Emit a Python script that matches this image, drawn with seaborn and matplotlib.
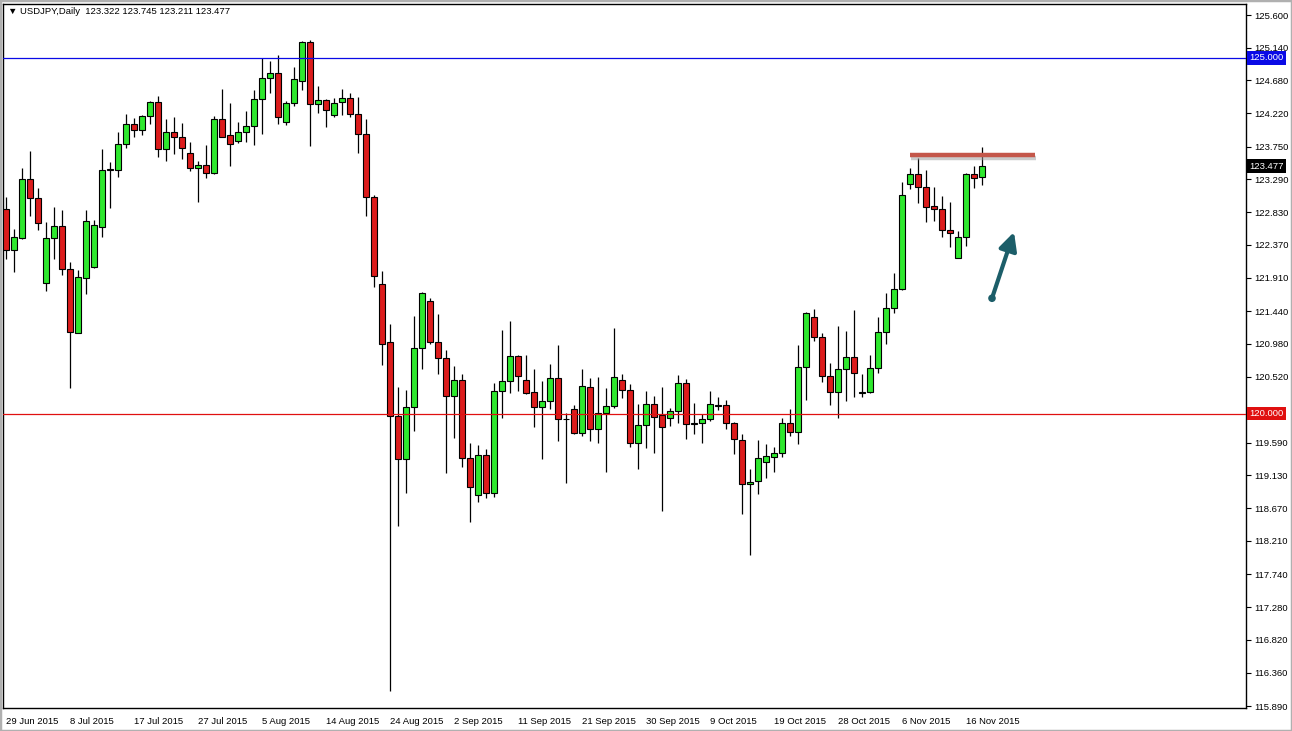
import matplotlib
matplotlib.use("Agg")
import matplotlib.pyplot as plt
import matplotlib.patheffects as pe
import matplotlib.transforms as mtransforms
import numpy as np
import pandas as pd
import seaborn as sns

# USDJPY daily candles, 29 Jun 2015 - 18 Nov 2015
opens = [122.87, 122.30, 122.47, 123.30, 123.03, 121.83, 122.47, 122.64, 122.03, 121.13,
         121.90, 122.06, 122.62, 123.42, 123.42, 123.79, 124.07, 123.98, 124.18, 124.38,
         123.72, 123.96, 123.89, 123.66, 123.45, 123.49, 123.38, 124.14, 123.91, 123.83,
         123.96, 124.04, 124.42, 124.72, 124.79, 124.10, 124.36, 124.67, 125.22, 124.35,
         124.40, 124.20, 124.38, 124.43, 124.21, 123.93, 123.04, 121.82, 121.00, 119.97,
         119.36, 120.09, 120.92, 121.58, 121.00, 120.78, 120.25, 120.47, 119.38, 118.86,
         119.42, 118.88, 120.32, 120.46, 120.81, 120.47, 120.30, 120.09, 120.18, 120.50,
         119.92, 120.06, 119.73, 120.37, 119.78, 120.01, 120.11, 120.47, 120.33, 119.59,
         119.84, 120.13, 119.98, 119.94, 120.04, 120.43, 119.85, 119.87, 119.92, 120.12,
         120.12, 119.87, 119.63, 119.01, 119.05, 119.32, 119.39, 119.45, 119.87, 119.74,
         120.65, 121.36, 121.08, 120.53, 120.30, 120.62, 120.79, 120.29, 120.30, 120.64,
         121.15, 121.48, 121.75, 123.23, 123.37, 123.18, 122.92, 122.87, 122.58, 122.19,
         122.48, 123.37, 123.322]
highs = [123.04, 122.59, 123.45, 123.69, 123.17, 122.69, 122.90, 122.86, 122.13, 122.02,
         122.86, 122.72, 123.72, 123.53, 123.96, 124.21, 124.15, 124.19, 124.39, 124.46,
         124.14, 124.17, 124.08, 123.82, 123.55, 123.77, 124.18, 124.56, 124.36, 124.10,
         124.25, 124.55, 125.00, 124.95, 125.04, 124.39, 124.87, 125.24, 125.25, 124.60,
         124.42, 124.43, 124.56, 124.50, 124.45, 124.14, 123.07, 122.00, 121.26, 120.37,
         120.33, 121.37, 121.71, 121.62, 121.40, 120.89, 120.67, 120.56, 119.59, 119.56,
         119.50, 120.43, 121.17, 121.30, 120.82, 120.82, 120.62, 120.46, 120.70, 120.96,
         120.01, 120.12, 120.62, 120.50, 120.51, 120.36, 121.20, 120.56, 120.41, 120.13,
         120.32, 120.25, 120.37, 120.08, 120.54, 120.49, 120.15, 119.99, 120.32, 120.23,
         120.19, 119.88, 119.71, 119.22, 119.63, 119.57, 119.53, 119.94, 120.06, 120.96,
         121.42, 121.47, 121.13, 120.71, 121.23, 121.16, 121.45, 120.55, 120.82, 121.36,
         121.69, 121.97, 123.25, 123.45, 123.59, 123.42, 123.18, 123.06, 122.97, 122.57,
         123.38, 123.48, 123.745]
lows = [122.17, 121.99, 122.45, 122.78, 122.58, 121.72, 122.17, 121.95, 120.36, 121.13,
        121.68, 122.04, 122.48, 122.89, 123.32, 123.73, 123.89, 123.91, 124.07, 123.60,
        123.55, 123.65, 123.58, 123.41, 122.97, 123.31, 123.37, 123.88, 123.48, 123.80,
        123.81, 123.77, 123.93, 124.50, 124.07, 124.05, 124.32, 124.55, 123.76, 124.22,
        124.03, 124.17, 124.20, 124.17, 123.66, 122.78, 121.78, 120.68, 116.10, 118.42,
        118.88, 119.75, 120.63, 120.98, 120.56, 119.16, 119.66, 119.25, 118.48, 118.76,
        118.81, 118.83, 119.94, 120.29, 120.32, 120.28, 119.81, 119.36, 120.07, 119.61,
        119.02, 119.71, 119.68, 119.61, 119.59, 119.18, 120.08, 120.22, 119.53, 119.22,
        119.51, 119.45, 118.63, 119.82, 119.87, 119.64, 119.71, 119.59, 119.90, 120.05,
        119.78, 119.43, 118.59, 118.01, 118.87, 119.09, 119.18, 119.39, 119.68, 119.57,
        120.19, 121.02, 120.44, 120.12, 119.94, 120.18, 120.23, 120.23, 120.29, 120.57,
        120.98, 121.41, 121.74, 123.16, 122.96, 122.69, 122.70, 122.48, 122.34, 122.18,
        122.35, 123.17, 123.211]
closes = [122.30, 122.48, 123.30, 123.03, 122.68, 122.47, 122.64, 122.03, 121.15, 121.92,
          122.71, 122.65, 123.42, 123.43, 123.79, 124.07, 123.98, 124.18, 124.38, 123.72,
          123.96, 123.89, 123.73, 123.45, 123.49, 123.38, 124.14, 123.89, 123.79, 123.96,
          124.04, 124.42, 124.72, 124.79, 124.17, 124.36, 124.70, 125.22, 124.35, 124.40,
          124.27, 124.36, 124.43, 124.21, 123.93, 123.04, 121.93, 120.98, 119.97, 119.36,
          120.09, 120.92, 121.69, 121.00, 120.78, 120.25, 120.47, 119.38, 118.97, 119.42,
          118.88, 120.32, 120.46, 120.81, 120.53, 120.29, 120.09, 120.18, 120.50, 119.92,
          119.93, 119.73, 120.39, 119.78, 120.01, 120.11, 120.51, 120.33, 119.59, 119.84,
          120.13, 119.95, 119.81, 120.04, 120.43, 119.85, 119.86, 119.92, 120.13, 120.11,
          119.87, 119.64, 119.01, 119.04, 119.38, 119.40, 119.45, 119.87, 119.74, 120.65,
          121.41, 121.08, 120.53, 120.30, 120.62, 120.79, 120.57, 120.30, 120.64, 121.15,
          121.48, 121.75, 123.07, 123.37, 123.18, 122.90, 122.87, 122.58, 122.54, 122.48,
          123.37, 123.31, 123.477]

date_labels = ["29 Jun 2015", "8 Jul 2015", "17 Jul 2015", "27 Jul 2015", "5 Aug 2015",
               "14 Aug 2015", "24 Aug 2015", "2 Sep 2015", "11 Sep 2015", "21 Sep 2015",
               "30 Sep 2015", "9 Oct 2015", "19 Oct 2015", "28 Oct 2015", "6 Nov 2015",
               "16 Nov 2015"]
price_ticks = [125.600, 125.140, 124.680, 124.220, 123.750, 123.290, 122.830, 122.370,
               121.910, 121.440, 120.980, 120.520, 120.060, 119.590, 119.130, 118.670,
               118.210, 117.740, 117.280, 116.820, 116.360, 115.890]

symbol = "USDJPY,Daily"
level_high = 125.000
level_low = 120.000
last_price = 123.477

# drawn objects on the chart
resistance_bars = [113.0, 128.6]
resistance_price = 123.63
arrow_from = [123.25, 121.62]
arrow_to = [126.0, 122.55]

df = pd.DataFrame({"open": opens, "high": highs, "low": lows, "close": closes})
df["bar"] = np.arange(len(df))
df["up"] = df["close"] >= df["open"]

sns.set_theme(style="white")
plt.rcParams["font.family"] = ["Liberation Sans", "DejaVu Sans"]

fig = plt.figure(figsize=(12.92, 7.31), dpi=100)
ax = fig.add_axes([3 / 1292, 1 - 708 / 731, 1243 / 1292, 704 / 731])
ax.set_facecolor("white")

# wicks then bodies
ax.vlines(df["bar"], df["low"], df["high"], color="black", lw=0.9, zorder=2)
body_lo = df[["open", "close"]].min(axis=1)
body_h = (df["close"] - df["open"]).abs().clip(lower=0.004)
colors = np.where(df["up"], "#2ee82e", "#dc1c1c")
ax.bar(df["bar"], body_h, bottom=body_lo, width=0.7, color=colors,
       edgecolor="black", linewidth=0.8, zorder=3)

# horizontal levels
ax.axhline(level_high, color="#0a0ae6", lw=0.9, zorder=4)
ax.axhline(level_low, color="#e01010", lw=0.9, zorder=4)

# resistance line with a soft shadow
ax.plot(resistance_bars, [resistance_price] * 2, color="#c4574a", lw=3.2,
        solid_capstyle="butt", zorder=5,
        path_effects=[pe.SimpleLineShadow(offset=(1, -2), shadow_color="#999999", alpha=0.5),
                      pe.Normal()])

# arrow
ax.annotate("", xy=arrow_to, xytext=arrow_from,
            arrowprops=dict(arrowstyle="-|>,head_length=0.9,head_width=0.45",
                            color="#1c5e69", lw=3, shrinkA=0, shrinkB=0), zorder=5)
sns.scatterplot(x=[arrow_from[0]], y=[arrow_from[1]], color="#1c5e69", s=30,
                edgecolor="none", ax=ax, zorder=6, legend=False)

ax.set_xlim(-0.375, 155)
ax.set_ylim(115.862, 125.755)

# axes: dates at bottom, prices on the right
ax.set_xticks(range(0, len(df), 8))
ax.set_xticklabels(date_labels, ha="left", fontsize=6.8)
ax.yaxis.tick_right()
ax.set_yticks(price_ticks)
# the tick next to the 120.000 level sits under its price box, so its label is left blank
ax.set_yticklabels(["" if abs(p - level_low) < 0.1 else f"{p:.3f}" for p in price_ticks],
                   fontsize=6.8)
ax.tick_params(axis="both", which="both", direction="out", length=3.5, width=0.8,
               color="black", labelcolor="black")
ax.tick_params(axis="x", pad=3)
ax.tick_params(axis="y", pad=2.5, left=False, right=True)
ax.set_xlabel("")
ax.set_ylabel("")
for s in ax.spines.values():
    s.set_color("black")
    s.set_linewidth(1.0)
    s.set_visible(True)

# price boxes on the scale
trans = mtransforms.blended_transform_factory(ax.transAxes, ax.transData)
for val, bg in [(level_high, "#0a0ae6"), (last_price, "black"), (level_low, "#e01010")]:
    ax.text(1.0028, val, f"{val:.3f}", transform=trans, ha="left", va="center",
            fontsize=6.8, color="white", zorder=10, clip_on=False,
            bbox=dict(boxstyle="square,pad=0.25", facecolor=bg, edgecolor="none"))

# header
fig.text(8 / 1292, 1 - 12 / 731,
         f"\u25bc {symbol}  {opens[-1]:.3f} {highs[-1]:.3f} {lows[-1]:.3f} {closes[-1]:.3f}",
         ha="left", va="center", fontsize=6.8, color="black")

# window frame
fig.patches.append(plt.Rectangle((0, 0), 1, 1, transform=fig.transFigure, fill=False,
                                 edgecolor="#b0b0b0", lw=2.5))

fig.savefig("out.png", dpi=100, facecolor="white")
